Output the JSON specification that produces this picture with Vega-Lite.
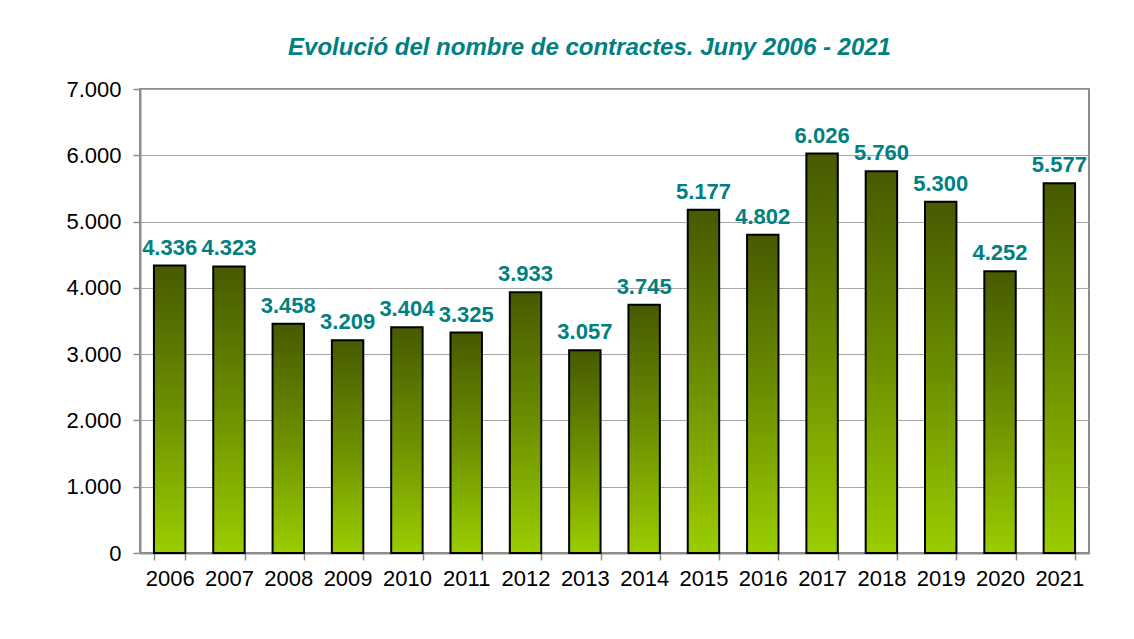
{
  "$schema": "https://vega.github.io/schema/vega-lite/v6.json",
  "width": 949,
  "height": 464,
  "autosize": "none",
  "padding": {"left": 140, "top": 89, "right": 45, "bottom": 86},
  "background": "white",
  "config": {
    "font": "Liberation Sans",
    "locale": {"number": {"decimal": ",", "thousands": ".", "grouping": [3], "currency": ["", " €"]}},
    "view": {"stroke": "#8c8c8c", "strokeWidth": 2}
  },
  "title": {
    "text": "Evolució del nombre de contractes. Juny 2006 - 2021",
    "font": "Liberation Sans",
    "fontSize": 24,
    "fontStyle": "italic",
    "fontWeight": "bold",
    "color": "#008080",
    "anchor": "middle",
    "offset": 18,
    "dx": -25
  },
  "data": {
    "values": [
      {"year": "2006", "value": 4336},
      {"year": "2007", "value": 4323},
      {"year": "2008", "value": 3458},
      {"year": "2009", "value": 3209},
      {"year": "2010", "value": 3404},
      {"year": "2011", "value": 3325},
      {"year": "2012", "value": 3933},
      {"year": "2013", "value": 3057},
      {"year": "2014", "value": 3745},
      {"year": "2015", "value": 5177},
      {"year": "2016", "value": 4802},
      {"year": "2017", "value": 6026},
      {"year": "2018", "value": 5760},
      {"year": "2019", "value": 5300},
      {"year": "2020", "value": 4252},
      {"year": "2021", "value": 5577}
    ]
  },
  "encoding": {
    "x": {
      "field": "year",
      "type": "ordinal",
      "scale": {"paddingInner": 0.47, "paddingOuter": 0.235},
      "axis": {
        "title": null,
        "labelAngle": 0,
        "labelFont": "Liberation Sans",
        "labelFontSize": 22,
        "labelColor": "black",
        "labelPadding": 8,
        "tickBand": "extent",
        "tickSize": 7,
        "tickColor": "#8c8c8c",
        "tickWidth": 1.5,
        "domainColor": "#8c8c8c",
        "domainWidth": 2,
        "grid": false
      }
    },
    "y": {
      "field": "value",
      "type": "quantitative",
      "scale": {"domain": [0, 7000], "nice": false},
      "axis": {
        "title": null,
        "values": [0, 1000, 2000, 3000, 4000, 5000, 6000, 7000],
        "format": ",d",
        "labelFont": "Liberation Sans",
        "labelFontSize": 22,
        "labelColor": "black",
        "labelPadding": 12,
        "tickSize": 7,
        "tickColor": "#8c8c8c",
        "tickWidth": 1.5,
        "domainColor": "#8c8c8c",
        "domainWidth": 2,
        "grid": true,
        "gridColor": "#a6a6a6",
        "gridWidth": 1.2
      }
    }
  },
  "layer": [
    {
      "mark": {
        "type": "bar",
        "stroke": "black",
        "strokeWidth": 2,
        "fill": {
          "gradient": "linear",
          "x1": 0, "y1": 0, "x2": 0, "y2": 1,
          "stops": [
            {"offset": 0, "color": "#475a00"},
            {"offset": 0.5, "color": "#6c8f00"},
            {"offset": 1, "color": "#9acd00"}
          ]
        }
      }
    },
    {
      "mark": {
        "type": "text",
        "baseline": "bottom",
        "dy": -6,
        "font": "Liberation Sans",
        "fontSize": 22,
        "fontWeight": "bold",
        "color": "#008080"
      },
      "encoding": {"text": {"field": "value", "type": "quantitative", "format": ",d"}}
    }
  ]
}
